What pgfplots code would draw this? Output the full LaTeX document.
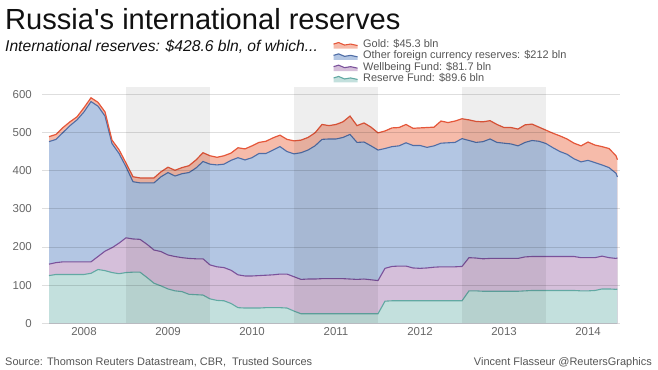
\documentclass[border=0pt]{standalone}
\usepackage{pgfplots}
\pgfplotsset{compat=1.18}
\usepackage{pgfplotstable}
\usepackage{fontspec}
\setmainfont{Liberation Sans}
\newfontfamily\plainfont{Liberation Sans}
\definecolor{goldfill}{HTML}{F6BBAA}
\definecolor{goldline}{HTML}{E5573A}
\definecolor{otherfill}{HTML}{B3C6E3}
\definecolor{otherline}{HTML}{4F6DA6}
\definecolor{wellfill}{HTML}{D5BFDA}
\definecolor{wellline}{HTML}{7B529B}
\definecolor{resfill}{HTML}{C3E0DD}
\definecolor{resline}{HTML}{62A9A3}
\definecolor{tickcol}{HTML}{666666}
\definecolor{legcol}{HTML}{555555}
\definecolor{titlecol}{HTML}{111111}

% m = months since Jan 2008; R = Reserve Fund, W = Wellbeing Fund, O = other FX reserves, G = gold
\pgfplotstableread{
m R W O G
1 125 30 321 13
2 128 31 323 13
3 128 33 339 13
4 128 33 357 10
5 128 33 372 8
6 128 33 393 11
7 131 30 420 10
8 141 34 394 10
9 138 51 354 11
10 133 65 273 9
11 130 80 235 10
12 133 91 186 10
13 134 87 150 13
14 134 86 148 13
15 120 87 161 13
16 105 87 176 13
17 98 90 196 13
18 90 89 216 14
19 85 90 211 15
20 83 89 220 16
21 76 94 225 18
22 75 94 238 21
23 74 95 255 23
24 64 89 264 22
25 60 88 267 20
26 59 87 271 22
27 52 87 288 19
28 41 86 307 26
29 40 84 304 29
30 40 84 310 31
31 40 85 320 29
32 41 85 319 32
33 41 86 327 32
34 41 88 334 30
35 40 89 321 32
36 32 90 322 34
37 25 90 332 33
38 25 91 338 33
39 25 91 349 34
40 25 92 365 39
41 25 92 366 35
42 25 92 366 38
43 25 92 370 41
44 25 91 379 48
45 25 90 359 44
46 25 91 359 50
47 25 89 351 49
48 25 87 342 45
49 58 86 314 46
50 59 90 314 49
51 59 91 315 48
52 59 91 323 48
53 59 86 321 45
54 59 85 322 46
55 59 86 316 52
56 59 88 318 49
57 59 89 324 58
58 59 89 325 53
59 59 89 326 56
60 59 90 335 52
61 85 87 307 54
62 85 86 303 55
63 84 85 307 52
64 84 86 313 48
65 84 86 304 47
66 84 86 302 41
67 84 86 300 43
68 84 86 295 44
69 85 89 300 46
70 86 89 304 43
71 86 89 302 37
72 86 89 296 35
73 86 89 285 38
74 86 89 275 41
75 86 89 268 40
76 86 89 256 41
77 85 87 251 42
78 85 87 255 48
79 86 86 249 46
80 90 86 239 48
81 90 82 236 50
82 89 81 223 46
82.2 89.6 81.7 212 45.3
}\reserves

\newcommand{\legicon}[2]{%
  \path[fill=#1, draw=none] (0bp,-4bp) -- (0bp,0.5bp) -- (5bp,2bp) -- (11bp,-0.5bp) -- (17bp,0.5bp) -- (24bp,-1bp) -- (24bp,-4bp) -- cycle;
  \path[draw=#2, line width=1.1bp, fill=none] (0bp,0.5bp) -- (5bp,2bp) -- (11bp,-0.5bp) -- (17bp,0.5bp) -- (24bp,-1bp);
  \path[draw=none, fill=none] (0bp,0bp) -- (29bp,0bp);%
}

\begin{document}
\begin{tikzpicture}
\useasboundingbox (0,0) rectangle (658bp,370bp);
\node[anchor=base west, inner sep=0pt, text=titlecol, font=\plainfont\fontsize{29.2}{30}\selectfont] at (5bp,340.5bp) {Russia's international reserves};
\node[anchor=base west, inner sep=0pt, text=titlecol, font=\fontsize{15.7}{17}\selectfont\itshape] at (5bp,318bp) {International reserves: \$428.6 bln, of which...};
\node[anchor=base west, inner sep=0pt, text=legcol, font=\fontsize{11}{12}\selectfont] at (5bp,5bp) {Source: Thomson Reuters Datastream, CBR,~ Trusted Sources};
\node[anchor=base east, inner sep=0pt, text=legcol, font=\fontsize{11}{12}\selectfont] at (652bp,5bp) {Vincent Flasseur @ReutersGraphics};
\begin{axis}[
  at={(42bp,46.7bp)}, anchor=south west,
  scale only axis, width=578bp, height=236.6bp,
  xmin=0, xmax=82.57, ymin=0, ymax=620,
  axis on top,
  axis line style={draw=none},
  tick style={draw=none},
  ytick={0,100,...,600},
  ymajorgrids,
  major grid style={draw=black, opacity=0.13, line width=0.8bp},
  xtick={6,18,30,42,54,66,78},
  xticklabels={2008,2009,2010,2011,2012,2013,2014},
  /pgf/number format/assume math mode=true,
  ticklabel style={font=\fontsize{11.5}{12}\selectfont, text=tickcol},
  yticklabel style={anchor=east, inner sep=0pt, xshift=-10bp},
  xticklabel style={anchor=base, inner sep=0pt, yshift=-12.7bp},
  legend style={at={(axis description cs:0.5035,1.2020)}, anchor=north west,
    draw=none, fill=none, inner sep=0pt, outer sep=0pt,
    font=\fontsize{11}{11}\selectfont, text=legcol,
    nodes={inner sep=0.6bp, text height=7.9bp, text depth=2.2bp},
    row sep=0pt},
  legend cell align=left,
]
\addplot[fill=goldfill, draw=none, forget plot] table[x=m, y expr=\thisrow{R}+\thisrow{W}+\thisrow{O}+\thisrow{G}] {\reserves} \closedcycle;
\addplot[fill=otherfill, draw=none, forget plot] table[x=m, y expr=\thisrow{R}+\thisrow{W}+\thisrow{O}] {\reserves} \closedcycle;
\addplot[fill=wellfill, draw=none, forget plot] table[x=m, y expr=\thisrow{R}+\thisrow{W}] {\reserves} \closedcycle;
\addplot[fill=resfill, draw=none, forget plot] table[x=m, y=R] {\reserves} \closedcycle;
\addplot[resline, line width=1.1bp, forget plot] table[x=m, y=R] {\reserves};
\addplot[wellline, line width=1.1bp, forget plot] table[x=m, y expr=\thisrow{R}+\thisrow{W}] {\reserves};
\addplot[otherline, line width=1.1bp, forget plot] table[x=m, y expr=\thisrow{R}+\thisrow{W}+\thisrow{O}] {\reserves};
\addplot[goldline, line width=1.2bp, forget plot] table[x=m, y expr=\thisrow{R}+\thisrow{W}+\thisrow{O}+\thisrow{G}] {\reserves};
\fill[black, opacity=0.065] (axis cs:12,0) rectangle (axis cs:24,620);
\fill[black, opacity=0.065] (axis cs:36,0) rectangle (axis cs:48,620);
\fill[black, opacity=0.065] (axis cs:60,0) rectangle (axis cs:72,620);
\addlegendimage{draw=none, fill=none, legend image code/.code={\legicon{goldfill}{goldline}}}
\addlegendentry{Gold: \$45.3 bln}
\addlegendimage{draw=none, fill=none, legend image code/.code={\legicon{otherfill}{otherline}}}
\addlegendentry{Other foreign currency reserves: \$212 bln}
\addlegendimage{draw=none, fill=none, legend image code/.code={\legicon{wellfill}{wellline}}}
\addlegendentry{Wellbeing Fund: \$81.7 bln}
\addlegendimage{draw=none, fill=none, legend image code/.code={\legicon{resfill}{resline}}}
\addlegendentry{Reserve Fund: \$89.6 bln}
\end{axis}
\end{tikzpicture}
\end{document}
